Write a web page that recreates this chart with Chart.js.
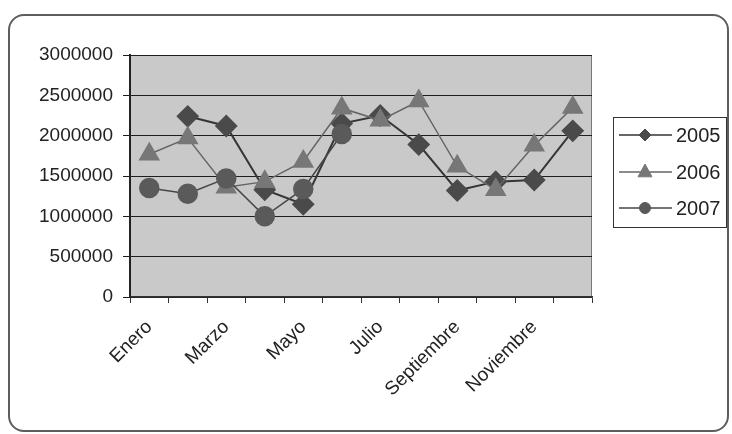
<!DOCTYPE html>
<html>
<head>
<meta charset="utf-8">
<script src="https://cdn.jsdelivr.net/npm/chart.js@4.4.1/dist/chart.umd.min.js"></script>
<style>
  body { margin: 0; background: #fff; }
  #wrap { position: relative; width: 732px; height: 434px; }
  #frame {
    position: absolute; left: 8px; top: 14px; width: 721px; height: 418px;
    box-sizing: border-box; border: 2px solid #5e5e5e; border-radius: 16px;
    pointer-events: none;
  }
</style>
</head>
<body>
<div id="wrap">
  <canvas id="ventas-chart" width="732" height="434"></canvas>
  <div id="frame"></div>
</div>
<script>
var meses = ["Enero", "Febrero", "Marzo", "Abril", "Mayo", "Junio",
  "Julio", "Agosto", "Septiembre", "Octubre", "Noviembre", "Diciembre"];
var serie2005 = [null, 2240000, 2120000, 1330000, 1150000, 2150000,
  2250000, 1890000, 1320000, 1430000, 1450000, 2060000];
var serie2006 = [1770000, 1970000, 1360000, 1430000, 1680000, 2340000,
  2190000, 2430000, 1620000, 1330000, 1880000, 2350000];
var serie2007 = [1350000, 1280000, 1470000, 1000000, 1340000, 2020000,
  null, null, null, null, null, null];
var yTicks = [0, 500000, 1000000, 1500000, 2000000, 2500000, 3000000];

var fuente = "'Liberation Sans', Arial, sans-serif";

// fondo gris del area de trazado
var plotBg = {
  id: "plotBg",
  beforeDraw: (chart) => {
    let a = chart.chartArea;
    let ctx = chart.ctx;
    ctx.save();
    ctx.fillStyle = "#c9c9c9";
    ctx.fillRect(a.left, a.top, a.right - a.left, a.bottom - a.top);
    ctx.strokeStyle = "#7a7a7a";
    ctx.lineWidth = 1;
    ctx.strokeRect(a.left + 0.5, a.top + 0.5, a.right - a.left - 1, a.bottom - a.top - 1);
    ctx.restore();
  },
};

function drawMarker(ctx, style, x, y, r) {
  if (style == "rectRot") {
    ctx.moveTo(x - r, y);
    ctx.lineTo(x, y - r);
    ctx.lineTo(x + r, y);
    ctx.lineTo(x, y + r);
    ctx.closePath();
  } else if (style == "triangle") {
    ctx.moveTo(x, y - r);
    ctx.lineTo(x + r * 0.87, y + r * 0.6);
    ctx.lineTo(x - r * 0.87, y + r * 0.6);
    ctx.closePath();
  } else {
    ctx.arc(x, y, r, 0, Math.PI * 2);
  }
}

// leyenda estilo Excel (linea con marcador)
var excelLegend = {
  id: "excelLegend",
  afterDraw: (chart) => {
    let ctx = chart.ctx;
    let box = { x: 613, y: 117, w: 113, h: 110 };
    ctx.save();
    ctx.fillStyle = "#fff";
    ctx.fillRect(box.x, box.y, box.w, box.h);
    ctx.strokeStyle = "#333";
    ctx.lineWidth = 1;
    ctx.strokeRect(box.x + 0.5, box.y + 0.5, box.w, box.h);
    let rows = [135, 172, 208];
    chart.data.datasets.forEach((ds, i) => {
      let y = rows[i];
      ctx.strokeStyle = ds.borderColor;
      ctx.lineWidth = 1.5;
      ctx.beginPath();
      ctx.moveTo(619, y);
      ctx.lineTo(672, y);
      ctx.stroke();
      ctx.fillStyle = ds.pointBackgroundColor;
      ctx.strokeStyle = ds.pointBorderColor;
      ctx.lineWidth = 1;
      ctx.beginPath();
      drawMarker(ctx, ds.pointStyle, 645, y, ds.legendRadius);
      ctx.fill();
      ctx.stroke();
      ctx.fillStyle = "#222";
      ctx.font = "20px " + fuente;
      ctx.textBaseline = "middle";
      ctx.textAlign = "left";
      ctx.fillText(ds.label, 676, y + 1);
    });
    ctx.restore();
  },
};

var ventasChart = new Chart(document.getElementById("ventas-chart"), {
  type: "line",
  data: {
    labels: meses,
    datasets: [
      {
        label: "2005",
        data: serie2005,
        borderColor: "#353535",
        borderWidth: 2,
        pointStyle: "rectRot",
        pointRadius: 10,
        pointBackgroundColor: "#4a4a4a",
        pointBorderColor: "#4a4a4a",
        legendRadius: 6,
        order: 3,
      },
      {
        label: "2006",
        data: serie2006,
        borderColor: "#666",
        borderWidth: 1.5,
        pointStyle: "triangle",
        pointRadius: 11,
        pointBackgroundColor: "#777",
        pointBorderColor: "#777",
        legendRadius: 8,
        order: 2,
      },
      {
        label: "2007",
        data: serie2007,
        borderColor: "#464646",
        borderWidth: 1.5,
        pointStyle: "circle",
        pointRadius: 9.5,
        pointBackgroundColor: "#5a5a5a",
        pointBorderColor: "#5a5a5a",
        legendRadius: 5.5,
        order: 1,
      },
    ],
  },
  options: {
    responsive: false,
    animation: false,
    spanGaps: false,
    layout: { padding: { top: 55, right: 140, left: 0, bottom: 0 } },
    plugins: {
      legend: false,
      tooltip: { enabled: false },
    },
    scales: {
      x: {
        offset: true,
        afterFit: (scale) => { scale.height = 137; },
        grid: {
          offset: true,
          drawOnChartArea: false,
          drawTicks: true,
          tickLength: 6,
          color: "#333",
        },
        border: { color: "#333", width: 1.5 },
        ticks: {
          autoSkip: false,
          minRotation: 45,
          maxRotation: 45,
          padding: 13,
          color: "#222",
          font: { family: fuente, size: 19 },
          callback: function (value, index) {
            return index % 2 == 0 ? meses[index] : "";
          },
        },
      },
      y: {
        min: yTicks[0],
        max: yTicks[yTicks.length - 1],
        afterFit: (scale) => { scale.width = 130; },
        afterBuildTicks: (scale) => {
          scale.ticks = yTicks.map((v) => ({ value: v }));
        },
        grid: {
          color: "#1e1e1e",
          lineWidth: 1,
          drawTicks: true,
          tickLength: 7,
        },
        border: { color: "#222", width: 2 },
        ticks: {
          padding: 10,
          color: "#222",
          font: { family: fuente, size: 19 },
          callback: (value) => String(value),
        },
      },
    },
  },
  plugins: [plotBg, excelLegend],
});
</script>
</body>
</html>
